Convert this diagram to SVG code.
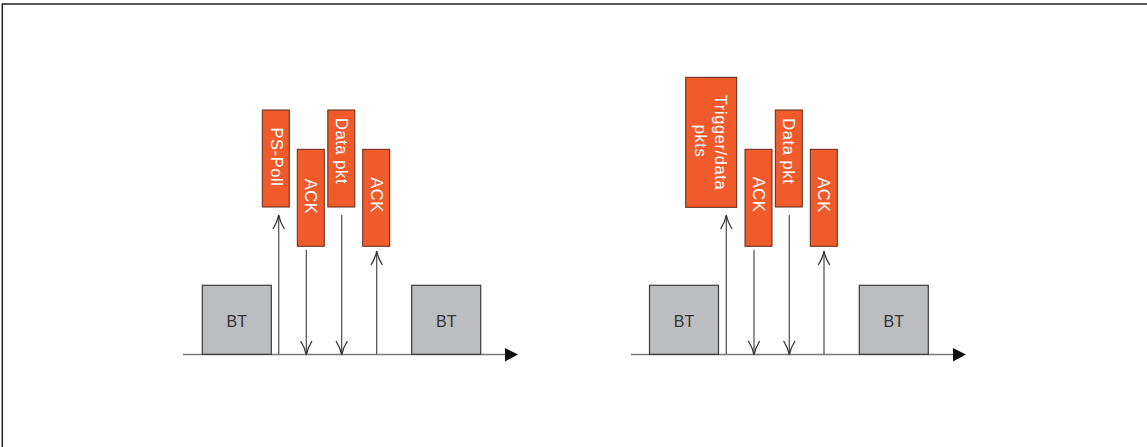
<svg xmlns="http://www.w3.org/2000/svg" width="1147" height="447" viewBox="0 0 1147 447">
<style>
.frame{stroke:#222;stroke-width:1.5;fill:none}
.pkt{fill:#f15a2b;stroke:#5e2a18;stroke-width:1}
.bt{fill:#bcbdc0;stroke:#3a3a3a;stroke-width:1.2}
.lbl{font-family:"Liberation Sans",Arial,sans-serif;font-size:16.5px;fill:#fff;letter-spacing:0.6px;text-anchor:middle}
.btl{font-family:"Liberation Sans",Arial,sans-serif;font-size:16px;fill:#333;text-anchor:middle}
.axis{stroke:#7a7a7a;stroke-width:1.5;fill:none}
.ln{stroke:#4a4a4a;stroke-width:1.2;fill:none}
.hd{stroke:#333;stroke-width:1.3;fill:none}
</style>
<rect width="1147" height="447" fill="#fff"/>
<path class="frame" d="M2.3,447 V4 H1147"/>

<g id="connectors">
  <line class="axis" x1="183" y1="354.5" x2="507" y2="354.5"/>
  <path d="M505,348 L518,354.5 L505,361.5 Z" fill="#111"/>
  <line class="axis" x1="631" y1="354.5" x2="955" y2="354.5"/>
  <path d="M953,348 L966,354.5 L953,361.5 Z" fill="#111"/>

  <line class="ln" x1="278.7" y1="216" x2="278.7" y2="354"/>
  <path class="hd" d="M273,229 Q277.3,222.5 278.7,215 Q280.1,222.5 284.4,229"/>
  <line class="ln" x1="306.3" y1="250" x2="306.3" y2="353"/>
  <path class="hd" d="M300.6,341 Q304.9,347.5 306.3,355 Q307.7,347.5 312,341"/>
  <line class="ln" x1="341.7" y1="215" x2="341.7" y2="353" stroke="#6a6a6a"/>
  <path class="hd" d="M336,341 Q340.3,347.5 341.7,355 Q343.1,347.5 347.4,341"/>
  <line class="ln" x1="376.7" y1="252" x2="376.7" y2="354"/>
  <path class="hd" d="M371,265 Q375.3,258.5 376.7,251 Q378.1,258.5 382.4,265"/>

  <line class="ln" x1="726.3" y1="216" x2="726.3" y2="354"/>
  <path class="hd" d="M720.6,229 Q724.9,222.5 726.3,215 Q727.7,222.5 732,229"/>
  <line class="ln" x1="754" y1="250" x2="754" y2="353"/>
  <path class="hd" d="M748.3,341 Q752.6,347.5 754,355 Q755.4,347.5 759.7,341"/>
  <line class="ln" x1="789.3" y1="215" x2="789.3" y2="353"/>
  <path class="hd" d="M783.6,341 Q787.9,347.5 789.3,355 Q790.7,347.5 795,341"/>
  <line class="ln" x1="824" y1="252" x2="824" y2="354"/>
  <path class="hd" d="M818.3,265 Q822.6,258.5 824,251 Q825.4,258.5 829.7,265"/>
</g>

<g id="bt-left-1">
  <rect class="bt" x="202.3" y="285.3" width="69" height="69"/>
  <text class="btl" x="236.8" y="326.5">BT</text>
</g>
<g id="bt-left-2">
  <rect class="bt" x="411.7" y="285.3" width="69" height="69"/>
  <text class="btl" x="446.2" y="326.5">BT</text>
</g>
<g id="pspoll">
  <rect class="pkt" x="262.3" y="110" width="27" height="97"/>
  <text class="lbl" transform="translate(270.5,157) rotate(90)">PS-Poll</text>
</g>
<g id="ack-left-1">
  <rect class="pkt" x="297.3" y="149.3" width="27" height="97"/>
  <text class="lbl" transform="translate(305.3,196.5) rotate(90)">ACK</text>
</g>
<g id="data-left">
  <rect class="pkt" x="327.8" y="110" width="27" height="97"/>
  <text class="lbl" transform="translate(335.6,151) rotate(90)">Data pkt</text>
</g>
<g id="ack-left-2">
  <rect class="pkt" x="362.7" y="149.3" width="27" height="97"/>
  <text class="lbl" transform="translate(370.7,195) rotate(90)">ACK</text>
</g>

<g id="bt-right-1">
  <rect class="bt" x="649.5" y="285.3" width="69" height="69"/>
  <text class="btl" x="684" y="326.5">BT</text>
</g>
<g id="bt-right-2">
  <rect class="bt" x="859.3" y="285.3" width="69" height="69"/>
  <text class="btl" x="893.8" y="326.5">BT</text>
</g>
<g id="trigger">
  <rect class="pkt" x="685.7" y="77.3" width="51" height="130"/>
  <text class="lbl" transform="translate(715,142.5) rotate(90)">Trigger/data</text>
  <text class="lbl" transform="translate(694.5,141) rotate(90)">pkts</text>
</g>
<g id="ack-right-1">
  <rect class="pkt" x="745" y="149.3" width="27" height="97"/>
  <text class="lbl" transform="translate(753,194.5) rotate(90)">ACK</text>
</g>
<g id="data-right">
  <rect class="pkt" x="775.3" y="110" width="27" height="97"/>
  <text class="lbl" transform="translate(783.3,151.3) rotate(90)">Data pkt</text>
</g>
<g id="ack-right-2">
  <rect class="pkt" x="810.3" y="149.3" width="27" height="97"/>
  <text class="lbl" transform="translate(818.3,195) rotate(90)">ACK</text>
</g>
</svg>
